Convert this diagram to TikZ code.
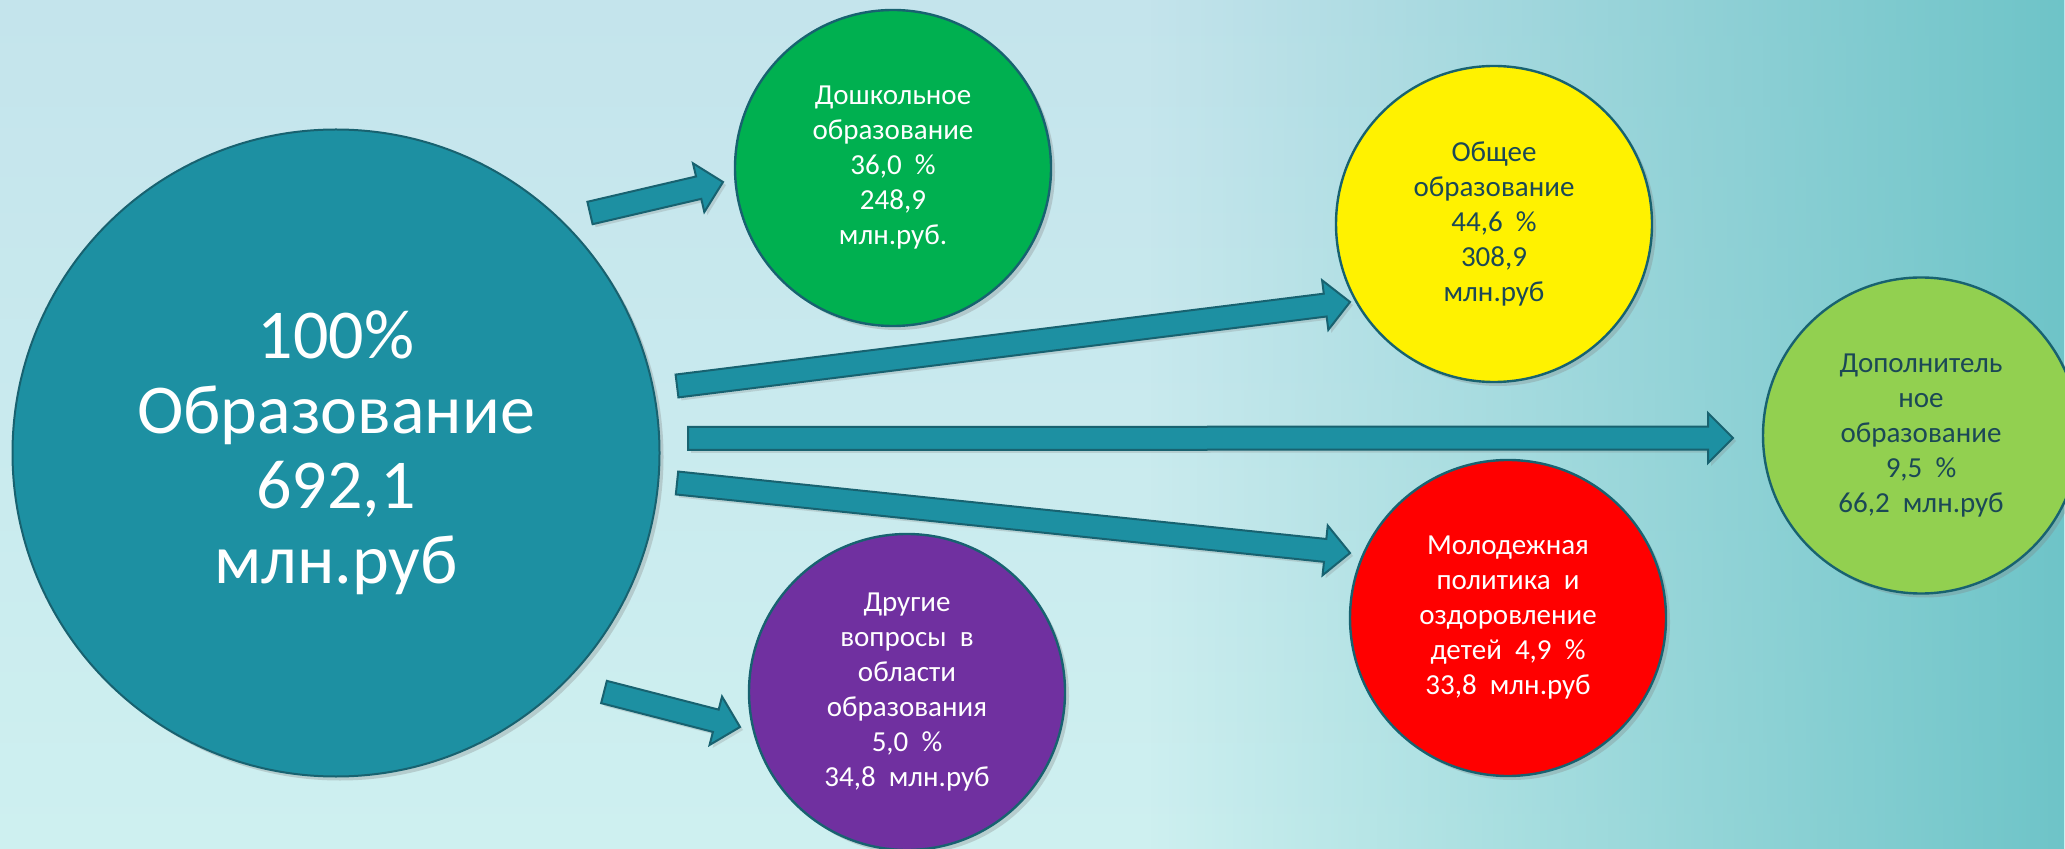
\documentclass[tikz,border=0pt]{standalone}
\usepackage{fontspec}
\setmainfont{Carlito}
\usetikzlibrary{calc,shadows,fadings}
\definecolor{bigteal}{RGB}{29,144,162}
\definecolor{rim}{RGB}{24,98,112}
\definecolor{darktext}{RGB}{27,72,86}
\definecolor{preGreen}{RGB}{0,176,80}
\definecolor{addGreen}{RGB}{146,208,80}
\definecolor{youthRed}{RGB}{255,0,0}
\definecolor{otherViolet}{RGB}{112,48,160}
\definecolor{bgTop}{RGB}{196,228,236}
\definecolor{bgBot}{RGB}{206,240,240}
\definecolor{bgRight}{RGB}{110,196,200}
\tikzfading[name=fade in right,left color=transparent!100,right color=transparent!0]

\begin{document}
\begin{tikzpicture}
		[x=50pt,y=50pt,
		cnode/.style={draw=rim,line width=1.2pt,fill=#1,circle,minimum size=158pt,inner sep=0pt,align=center,
			text=white,font=\fontsize{14.5}{17.5}\selectfont,
			drop shadow={opacity=0.3,shadow xshift=2pt,shadow yshift=-2pt}},
		]
		\tikzset{block arrow/.style={draw=rim,fill=bigteal,line width=1pt,line join=miter,
			drop shadow={opacity=0.25,shadow xshift=1.5pt,shadow yshift=-1.5pt}}}
		\useasboundingbox (0,0) rectangle (20.65,-8.49);
		\clip (0,0) rectangle (20.65,-8.49);
		% background
		\shade[top color=bgTop,bottom color=bgBot] (0,0) rectangle (20.65,-8.49);
		\fill[bgRight,path fading=fade in right] (11.5,0) rectangle (20.65,-8.49);
		
		\node[cnode=bigteal,minimum size=323.5pt,line width=1pt,font=\fontsize{35}{37.5}\selectfont] (total) at (3.36,-4.53) {100\%\\Образование\\692,1\\млн.руб};
		
		\node[cnode=preGreen] (pre) at (8.93,-1.68) {Дошкольное\\образование\\36,0\ \ \%\\248,9\\млн.руб.};
		\node[cnode=yellow,text=darktext] (gen) at (14.94,-2.24) {Общее\\образование\\44,6\ \ \%\\308,9\\млн.руб};
		\node[cnode=addGreen,text=darktext] (add) at (19.21,-4.355) {Дополнитель\\ное\\образование\\9,5\ \ \%\\66,2\ \ млн.руб};
		\node[cnode=youthRed] (youth) at (15.08,-6.18) {Молодежная\\политика\ \ и\\оздоровление\\детей\ \ 4,9\ \ \%\\33,8\ \ млн.руб};
		\node[cnode=otherViolet] (other) at (9.07,-6.92) {Другие\\вопросы\ \ в\\области\\образования\\5,0\ \ \%\\34,8\ \ млн.руб};
		
		% arrow ends
		\coordinate (a-1) at (5.90,-2.13);  \coordinate (b-1) at (7.23,-1.82);
		\coordinate (a-2) at (6.77,-3.86);  \coordinate (b-2) at (13.50,-3.02);
		\coordinate (a-3) at (6.88,-4.385); \coordinate (b-3) at (17.33,-4.38);
		\coordinate (a-4) at (6.77,-4.83);  \coordinate (b-4) at (13.50,-5.53);
		\coordinate (a-5) at (6.04,-6.92);  \coordinate (b-5) at (7.40,-7.27);
		
		\foreach \x in {1,...,5}
		{
			\coordinate (m-\x) at ($(b-\x)!12.5pt!(a-\x)$);
			\path[block arrow] ($(a-\x)!5.75pt!90:(b-\x)$) -- ($(m-\x)!5.75pt!90:(b-\x)$) -- ($(m-\x)!12.5pt!90:(b-\x)$) -- (b-\x)
				-- ($(m-\x)!12.5pt!-90:(b-\x)$) -- ($(m-\x)!5.75pt!-90:(b-\x)$) -- ($(a-\x)!5.75pt!-90:(b-\x)$) -- cycle;
		}
		\end{tikzpicture}
\end{document}
